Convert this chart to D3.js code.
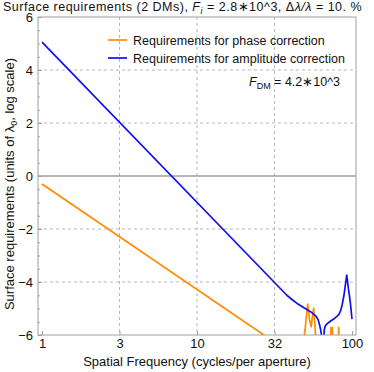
<!DOCTYPE html>
<html>
<head>
<meta charset="utf-8">
<script src="https://cdnjs.cloudflare.com/ajax/libs/d3/7.8.5/d3.min.js"></script>
<style>
  body { margin: 0; background: white; }
  text { font-family: "Liberation Sans", Arial, sans-serif; fill: #111; }
</style>
</head>
<body>
<svg width="374" height="372"></svg>
<script>
// values: [frequency, log10 surface requirement]
const phaseCurve = [
  [1, -0.3], [30, -6.18],
  [48, -6.6], [50, -5.7], [51.8, -4.83], [53.2, -5.4], [54.5, -5.69], [55.6, -5.3],
  [56.6, -4.99], [57.8, -5.7], [58.8, -6.6],
  [72.6, -6.6], [73.3, -5.72], [74.0, -6.2], [74.7, -5.72], [75.4, -6.6],
  [81.4, -6.6], [82.1, -5.72], [82.8, -6.6]
];
const amplitudeCurve = [
  [1, 5.05], [38, -4.5], [41, -4.66], [44, -4.8], [49, -4.97], [54.3, -5.13], [58.6, -5.29],
  [60.5, -5.42], [61.8, -5.62], [62.8, -5.8], [63.5, -6.0], [64.8, -6.5], [65.8, -6.1],
  [66.3, -5.8], [67.2, -5.66], [69, -5.58], [72.1, -5.49], [77, -5.38], [82.2, -5.23],
  [84.5, -5.08], [86.5, -4.85], [88.8, -4.5], [90.5, -4.15], [91.7, -3.9], [92.5, -3.74],
  [93.5, -3.95], [94.8, -4.25], [96.9, -4.63], [98.5, -5.0], [100, -5.4]
];
const xTicks = [1, Math.sqrt(10), 10, Math.sqrt(1000), 100];
const xTickLabels = ["1", "3", "10", "32", "100"];
const yTicks = [-6, -4, -2, 0, 2, 4, 6];
const legendLabels = ["Requirements for phase correction", "Requirements for amplitude correction"];
const colors = ["#ff8c00", "#1010f0"];

const svg = d3.select("svg");
const plotLeft = 38, plotRight = 356, plotTop = 17, plotBottom = 335;

const x = d3.scaleLog().domain([Math.pow(10, -0.026), Math.pow(10, 2.026)]).range([plotLeft, plotRight]);
const y = d3.scaleLinear().domain([-6, 6]).range([plotBottom, plotTop]);

// grid
svg.selectAll(".vgrid").data(xTicks.slice(1, 4)).enter().append("line")
  .attr("x1", d => x(d)).attr("x2", d => x(d)).attr("y1", plotTop).attr("y2", plotBottom)
  .style("stroke", "#b8b8b8").style("stroke-dasharray", "3,3");
svg.selectAll(".hgrid").data(yTicks.filter(d => d != 0 && Math.abs(d) != 6)).enter().append("line")
  .attr("x1", plotLeft).attr("x2", plotRight).attr("y1", d => y(d)).attr("y2", d => y(d))
  .style("stroke", "#b8b8b8").style("stroke-dasharray", "3,3");
svg.append("line").attr("x1", plotLeft).attr("x2", plotRight).attr("y1", y(0)).attr("y2", y(0))
  .style("stroke", "#707070").style("stroke-width", 1);

// curves
svg.append("clipPath").attr("id", "clip").append("rect")
  .attr("x", plotLeft).attr("y", plotTop).attr("width", plotRight - plotLeft).attr("height", plotBottom - plotTop);
const line = d3.line().x(d => x(d[0])).y(d => y(d[1]));
[phaseCurve, amplitudeCurve].forEach((c, i) => {
  svg.append("path").attr("d", line(c)).attr("clip-path", "url(#clip)")
    .style("fill", "none").style("stroke", colors[i]).style("stroke-width", 1.7)
    .style("stroke-linejoin", "round");
});

// frame
svg.append("rect").attr("x", plotLeft).attr("y", plotTop).attr("width", plotRight - plotLeft).attr("height", plotBottom - plotTop)
  .style("fill", "none").style("stroke", "#a0a0a0").style("stroke-width", 1);

// axes
svg.append("g").attr("transform", "translate(0," + plotBottom + ")")
  .call(d3.axisBottom(x).tickValues(xTicks).tickFormat((d, i) => xTickLabels[i]).tickSizeInner(-4).tickSizeOuter(0).tickPadding(4));
svg.append("g").attr("transform", "translate(" + plotLeft + ",0)")
  .call(d3.axisLeft(y).tickValues(yTicks).tickFormat(d => d < 0 ? "\u2212" + (-d) : d).tickSizeInner(-4).tickSizeOuter(0).tickPadding(5));
svg.append("g").attr("transform", "translate(" + plotLeft + ",0)")
  .call(d3.axisLeft(y).tickValues(d3.range(-5.5, 6, 0.5).filter(d => d % 2 != 0)).tickFormat("").tickSizeInner(-2).tickSizeOuter(0));
svg.selectAll(".domain").remove();
svg.selectAll(".tick line").style("stroke", "#a0a0a0");
svg.selectAll(".tick text").style("font-size", "13px").style("font-family", "Liberation Sans, Arial, sans-serif").style("fill", "#111");

// title
const title = svg.append("text").attr("x", 3).attr("y", 11).style("font-size", "12.5px").style("letter-spacing", "0.5px");
title.append("tspan").text("Surface requirements (2 DMs), ");
title.append("tspan").style("font-style", "italic").text("F");
title.append("tspan").style("font-style", "italic").style("font-size", "9px").attr("dy", 3).text("i");
title.append("tspan").attr("dy", -3).text(" = 2.8\u221710^3, \u0394");
title.append("tspan").style("font-style", "italic").text("\u03bb/\u03bb");
title.append("tspan").text(" = 10. %");

// axis labels
svg.append("text").attr("x", (plotLeft + plotRight) / 2).attr("y", 366).attr("text-anchor", "middle")
  .style("font-size", "13px").text("Spatial Frequency (cycles/per aperture)");
const yl = svg.append("text").attr("transform", "translate(14," + 184 + ") rotate(-90)")
  .attr("text-anchor", "middle").style("font-size", "13px");
yl.append("tspan").text("Surface requirements (units of \u03bb");
yl.append("tspan").style("font-size", "9px").attr("dy", 3).text("0");
yl.append("tspan").attr("dy", -3).text(", log scale)");

// legend
legendLabels.forEach((t, i) => {
  const ly = 40 + i * 18;
  svg.append("line").attr("x1", 108).attr("x2", 127).attr("y1", ly).attr("y2", ly)
    .style("stroke", colors[i]).style("stroke-width", 1.7);
  svg.append("text").attr("x", 133).attr("y", ly + 4.5).style("font-size", "12.5px").text(t);
});

const fdm = svg.append("text").attr("x", 249).attr("y", 86).style("font-size", "12.5px");
fdm.append("tspan").style("font-style", "italic").text("F");
fdm.append("tspan").style("font-size", "9px").attr("dy", 3).text("DM");
fdm.append("tspan").attr("dy", -3).text(" = 4.2\u221710^3");
</script>
</body>
</html>
